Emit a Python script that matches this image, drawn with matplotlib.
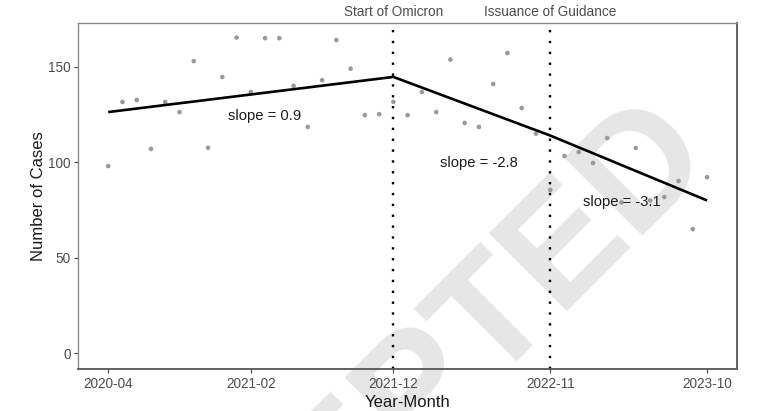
import matplotlib
matplotlib.use("Agg")
import matplotlib.pyplot as plt
import pandas as pd

plt.rcParams['font.family'] = ['Liberation Sans', 'DejaVu Sans']

# ---- data ----
months = [str(p) for p in pd.period_range("2020-04", "2023-10", freq="M")]
cases = [98, 131.6, 132.6, 107, 131.6, 126.3, 153, 107.6, 144.7, 165.3,
         136.8, 165, 165, 140, 118.5, 143, 164, 149, 124.7, 125.2,
         131.6, 124.7, 136.8, 126.3, 153.8, 120.6, 118.5, 141, 157.2, 128.4,
         115, 85.5, 103.3, 105.4, 99.6, 112.7, 79, 107.5, 80, 81.8,
         90.2, 65, 92.2]

trend_months = ["2020-04", "2021-12", "2022-11", "2023-10"]
trend_values = [126.3, 144.7, 114.0, 80.0]

event_months = ["2021-12", "2022-11"]
event_labels = ["Start of Omicron", "Issuance of Guidance"]

slope_labels = ["slope = 0.9", "slope = -2.8", "slope = -3.1"]
slope_months = ["2021-03", "2022-06", "2023-04"]
slope_y = [124.2, 99.5, 79.4]

xtick_labels = ["2020-04", "2021-02", "2021-12", "2022-11", "2023-10"]
ytick_values = [0, 50, 100, 150]

idx = {m: i for i, m in enumerate(months)}
x = [idx[m] for m in months]

# ---- figure ----
fig = plt.figure(figsize=(7.57, 4.11), dpi=100)
ax = fig.add_axes([0.1034, 0.1015, 0.9736 - 0.1034, 0.9448 - 0.1015])
ax.set_facecolor('none')
ax.set_zorder(1)

# watermark
fig.text(0.535, -0.14, "ACCEPTED", fontsize=115, fontweight='bold',
         color='#e6e6e6', rotation=45, rotation_mode='anchor',
         ha='center', va='baseline', zorder=-5,
         family=['Liberation Sans', 'DejaVu Sans'])

ax.scatter(x, cases, s=11, color='#9a9a9a', edgecolors='none', zorder=2)

ax.plot([idx[m] for m in trend_months], trend_values, color='black',
        lw=1.9, zorder=3, solid_capstyle='butt')

for m, lab in zip(event_months, event_labels):
    ax.axvline(idx[m], color='black', lw=1.7, linestyle=(0, (1, 3.6)),
               zorder=2.5, clip_on=False)
    ax.annotate(lab, xy=(idx[m], 1.0), xycoords=('data', 'axes fraction'),
                xytext=(0, 7.8), textcoords='offset points',
                ha='center', va='center', fontsize=9.8, color='#4d4d4d')

for lab, m, yv in zip(slope_labels, slope_months, slope_y):
    ax.text(idx[m], yv, lab, ha='center', va='center', fontsize=10.6,
            color='#1a1a1a', zorder=4)

ax.set_xlim(-2.1, 44.1)
ax.set_ylim(-8.4, 173.1)
ax.set_xticks([idx[m] for m in xtick_labels])
ax.set_xticklabels(xtick_labels)
ax.set_yticks(ytick_values)
ax.tick_params(axis='both', length=3, width=0.8, color='#444444',
               labelcolor='#4d4d4d', labelsize=9.8, pad=2.5)

ax.set_xlabel("Year-Month", fontsize=12, color='#1a1a1a', labelpad=3)
ax.set_ylabel("Number of Cases", fontsize=12, color='#1a1a1a', labelpad=1.5)

for side in ['left', 'top']:
    ax.spines[side].set_color('#8a8a8a')
    ax.spines[side].set_linewidth(1.0)
for side in ['right', 'bottom']:
    ax.spines[side].set_color('#555555')
    ax.spines[side].set_linewidth(1.3)

fig.savefig("out.png", dpi=100)
